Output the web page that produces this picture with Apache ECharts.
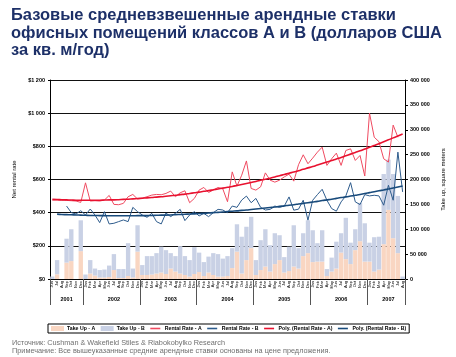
<!DOCTYPE html>
<html><head><meta charset="utf-8">
<script src="https://cdn.jsdelivr.net/npm/echarts@6/dist/echarts.min.js"></script>
<style>html,body{margin:0;padding:0;background:#fff}#c{width:456px;height:357px}</style>
</head><body><div id="c"></div>
<script>
const years = ['2001','2002','2003','2004','2005','2006','2007'];
const monthsPerYear = [7,12,12,12,12,12,8];
const firstMonth = 5; // June 2001
const monthNames = ['Jan','Feb','Mar','Apr','May','Jun','Jul','Aug','Sep','Oct','Nov','Dec'];
const leftTicks = [0,200,400,600,800,1000,1200];
const rightTicks = [0,50000,100000,150000,200000,250000,300000,350000,400000];

// Take up, square meters
const takeUpA = [0,9400,0,33000,36000,0,56000,0,11000,7000,3000,3000,4000,18000,2000,2000,6000,3000,55000,8000,
 8000,9000,11000,13000,10000,21000,15000,11000,8000,5000,10000,14000,6000,13000,8000,5000,5000,6000,22000,55000,
 11000,38000,62000,8000,18000,25000,15000,30000,38000,13000,16000,25000,21000,46000,52000,34000,35000,35000,6000,15000,
 21000,53000,40000,30000,58000,76000,35000,35000,15000,19000,70000,139000,82000,52000,0];
const takeUpTotal = [5000,38000,0,81000,100000,0,118000,9000,38000,21000,18000,19000,27000,50000,20000,20000,72000,21000,108000,28000,
 46000,46000,52000,65000,58000,52000,46000,66000,46000,38000,64000,53000,34000,45000,52000,50000,41000,46000,62000,110000,
 85000,105000,125000,38000,78000,100000,68000,92000,88000,44000,65000,108000,62000,92000,118000,98000,72000,98000,20000,43000,
 75000,92000,123000,73000,100000,153000,112000,73000,84000,85000,211000,240000,211000,167000,5000];
const takeUpB = takeUpTotal.map((t,i)=>t-takeUpA[i]);

// Rental rates, $/sq m/year
const rentA = [476,476,474,474,472,470,462,580,470,472,470,476,504,450,448,456,496,510,482,488,
 496,506,510,508,516,530,496,520,532,460,486,536,552,522,536,552,544,466,646,560,
 626,712,546,536,556,640,596,584,596,616,632,590,689,749,695,729,765,795,685,725,
 759,685,775,785,715,745,621,1000,855,828,725,705,928,855,null];
const rentB = [null,null,null,440,400,392,412,386,422,386,340,406,332,336,346,356,346,432,406,386,
 372,396,346,332,398,376,396,420,352,386,406,380,396,376,400,420,416,400,440,432,
 476,500,460,486,432,416,420,440,432,440,495,415,421,475,355,475,509,541,475,425,
 409,465,501,581,465,449,509,501,505,501,445,565,475,765,525];
// Polynomial trend lines
const polyA = [480,479,478,477,476,475,475,475,475,475,475,476,477,477,478,480,481,483,485,487,
 489,491,494,496,499,502,505,509,512,516,520,524,529,533,538,543,548,553,558,564,
 570,576,582,588,595,602,608,615,623,630,638,645,653,662,670,678,687,696,705,714,
 724,733,743,753,763,773,784,794,805,816,828,839,851,862,874];
const polyB = [null,391,389,388,387,386,385,384,383,383,382,382,381,381,381,381,381,381,382,382,
 382,383,384,385,385,386,388,389,390,392,393,395,396,398,400,402,404,407,409,411,
 414,416,419,422,425,428,431,434,438,441,445,448,452,456,460,464,468,473,477,481,
 486,491,495,500,505,510,516,521,526,532,537,543,549,555,561];

// categories
const categories = [];
const yearStart = [];
const yearMid = {};
let m = firstMonth, idx = 0;
years.forEach((y,k)=>{
  yearStart.push(idx);
  yearMid[idx + Math.floor(monthsPerYear[k]/2)] = y;
  for (let j=0;j<monthsPerYear[k];j++){ categories.push(monthNames[m%12]+' '+y); m++; idx++; }
});
yearStart.push(idx);

const fmtSpace = v => { const s = String(v); return s.length>3 ? s.slice(0,s.length-3)+' '+s.slice(-3) : s; };
const lineIcon = 'path://M0,0M20,10M0,3.4L20,3.4L20,6.6L0,6.6Z';

const chart = echarts.init(document.getElementById('c'), null, {renderer:'canvas'});
const font = 'Liberation Sans, Arial, sans-serif';
chart.setOption({
  animation:false,
  textStyle:{fontFamily:font},
  title:[
    {text:'Базовые средневзвешенные арендные ставки\nофисных помещений классов А и В (долларов США\nза кв. м/год)',
     left:6, top:2, textStyle:{fontSize:16.5, fontWeight:'bold', color:'#1d3068', lineHeight:17.5, fontFamily:font}},
    {text:'Источник: Cushman & Wakefield Stiles & Riabokobylko Research\nПримечание: Все вышеуказанные средние арендные ставки основаны на цене предложения.',
     left:7, top:334, textStyle:{fontSize:7.3, fontWeight:'normal', color:'#707070', lineHeight:8.3, fontFamily:font}}
  ],
  legend:{
    left:48, top:324, itemGap:5.5, itemWidth:13, itemHeight:5, padding:[2,3],
    borderColor:'#000', borderWidth:1, borderRadius:0,
    textStyle:{fontSize:5.2, fontWeight:'bold', color:'#000', padding:[0,0,0,-2]},
    data:[
      {name:'Take Up - A', icon:'rect'},
      {name:'Take Up - B', icon:'rect'},
      {name:'Rental Rate - A', icon:lineIcon},
      {name:'Rental Rate - B', icon:lineIcon},
      {name:'Poly. (Rental Rate - A)', icon:lineIcon},
      {name:'Poly. (Rental Rate - B)', icon:lineIcon}
    ]
  },
  grid:{left:50, right:51, top:80, bottom:78},
  xAxis:[
    {type:'category', data:categories, boundaryGap:true, position:'bottom',
     axisLine:{lineStyle:{color:'#000', width:1}},
     axisTick:{interval:0, length:3, lineStyle:{color:'#000'}},
     axisLabel:{interval:0, rotate:90, fontSize:4, margin:2, color:'#000',
       formatter:v=>v.split(' ')[0]}},
    {type:'category', data:categories, boundaryGap:true, position:'bottom', offset:0,
     axisLine:{show:false},
     axisTick:{show:true, length:26, interval:(i)=>yearStart.indexOf(i)>=0, lineStyle:{color:'#555', width:1}},
     axisLabel:{interval:0, margin:17, fontSize:5.5, fontWeight:'bold', color:'#000',
       formatter:(v,i)=> yearMid[i] || ''}}
  ],
  yAxis:[
    {type:'value', min:0, max:1200, interval:200, position:'left',
     name:'Net rental rate', nameLocation:'middle', nameGap:27,
     nameTextStyle:{fontSize:6, color:'#000'},
     axisLine:{show:true, lineStyle:{color:'#000'}},
     axisTick:{show:true, length:2, lineStyle:{color:'#000'}},
     axisLabel:{fontSize:5.5, fontWeight:'bold', color:'#000', margin:5, formatter:v=>'$'+fmtSpace(v)},
     splitLine:{show:true, lineStyle:{color:'#111', width:1}}},
    {type:'value', min:0, max:400000, interval:50000, position:'right',
     name:'Take up, square meters', nameLocation:'middle', nameGap:30,
     nameTextStyle:{fontSize:6, color:'#000'},
     axisLine:{show:true, lineStyle:{color:'#000'}},
     axisTick:{show:true, length:3, lineStyle:{color:'#000'}},
     axisLabel:{fontSize:5.5, fontWeight:'bold', color:'#000', margin:5, formatter:v=>fmtSpace(v)},
     splitLine:{show:false}}
  ],
  series:[
    {name:'Take Up - A', type:'bar', stack:'t', yAxisIndex:1, data:takeUpA, barCategoryGap:'8%',
     itemStyle:{color:'#f9d6c2'}},
    {name:'Take Up - B', type:'bar', stack:'t', yAxisIndex:1, data:takeUpB, barCategoryGap:'8%',
     itemStyle:{color:'#c9d1e5'}},
    {name:'Rental Rate - A', type:'line', yAxisIndex:0, data:rentA, symbol:'none',
     lineStyle:{color:'#ef4a60', width:1}, itemStyle:{color:'#ef4a60'}},
    {name:'Rental Rate - B', type:'line', yAxisIndex:0, data:rentB, symbol:'none',
     lineStyle:{color:'#2d5b8c', width:1}, itemStyle:{color:'#2d5b8c'}},
    {name:'Poly. (Rental Rate - A)', type:'line', yAxisIndex:0, data:polyA, symbol:'none', smooth:true,
     lineStyle:{color:'#e8112f', width:1.6}, itemStyle:{color:'#e8112f'}},
    {name:'Poly. (Rental Rate - B)', type:'line', yAxisIndex:0, data:polyB, symbol:'none', smooth:true,
     lineStyle:{color:'#184a7b', width:1.6}, itemStyle:{color:'#184a7b'}}
  ]
});
</script></body></html>
